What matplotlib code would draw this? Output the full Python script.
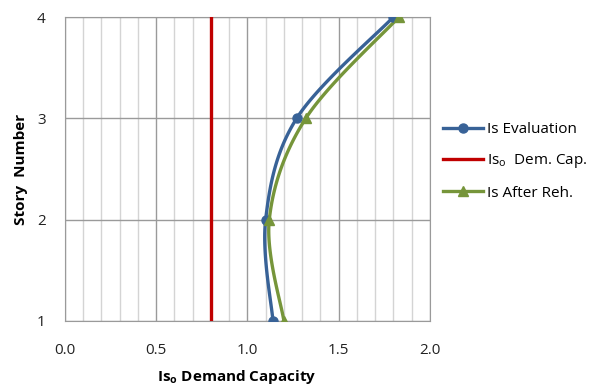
import numpy as np
import matplotlib.pyplot as plt
from matplotlib.ticker import MultipleLocator

# Werte
stories = [1, 2, 3, 4]
is_evaluation = [1.14, 1.10, 1.27, 1.80]
is_after_reh = [1.20, 1.12, 1.32, 1.83]
is0_demand = 0.8

x_ticks = [0.0, 0.5, 1.0, 1.5, 2.0]
y_ticks = [1, 2, 3, 4]


def smooth(x, y, sx=182.5, sy=101.3, n=40):
    # Catmull-Rom Glättung wie bei Excel ("smoothed line")
    p = np.column_stack([np.asarray(x) * sx, np.asarray(y) * sy])
    p = np.vstack([p[0], p, p[-1]])
    out = []
    for i in range(1, len(p) - 2):
        p0, p1, p2, p3 = p[i - 1], p[i], p[i + 1], p[i + 2]
        c1 = p1 + (p2 - p0) / 6
        c2 = p2 - (p3 - p1) / 6
        t = np.linspace(0, 1, n)[:, None]
        seg = ((1 - t) ** 3) * p1 + 3 * ((1 - t) ** 2) * t * c1 + 3 * (1 - t) * t ** 2 * c2 + t ** 3 * p2
        out.append(seg if i == 1 else seg[1:])
    out = np.vstack(out)
    return out[:, 0] / sx, out[:, 1] / sy


plt.rcParams['font.family'] = ['Open Sans', 'DejaVu Sans']

fig = plt.figure(figsize=(5.98, 3.89), dpi=100)
ax = fig.add_axes([0.1087, 0.175, 0.610, 0.781])

blue = '#386297'
red = '#C00000'
green = '#76953A'

xs, ys = smooth(is_evaluation, stories)
ax.plot(xs, ys, color=blue, lw=2.4, zorder=4)
ax.plot(is_evaluation, stories, 'o', color=blue, ms=6.5, zorder=5)
ax.plot([], [], color=blue, lw=2.4, marker='o', ms=6.5, label='Is Evaluation')

ax.axvline(is0_demand, color=red, lw=2.4, zorder=3, label='Is$_\\mathregular{o}$  Dem. Cap.')

xs, ys = smooth(is_after_reh, stories)
ax.plot(xs, ys, color=green, lw=2.4, zorder=4)
ax.plot(is_after_reh, stories, '^', color=green, ms=7, zorder=5)
ax.plot([], [], color=green, lw=2.4, marker='^', ms=7, label='Is After Reh.')

ax.set_xlim(0, 2.0)
ax.set_ylim(1, 4)
ax.set_xticks(x_ticks)
ax.set_xticklabels(['%.1f' % v for v in x_ticks])
ax.set_yticks(y_ticks)
ax.xaxis.set_minor_locator(MultipleLocator(0.1))
ax.grid(which='major', color='#9a9a9a', lw=1)
ax.grid(which='minor', axis='x', color='#d4d4d4', lw=1)
ax.set_axisbelow(True)
ax.tick_params(which='both', length=0, labelsize=11, colors='#222222')
ax.tick_params(axis='x', pad=16)
ax.tick_params(axis='y', pad=14)
for s in ax.spines.values():
    s.set_color('#9a9a9a')

ax.set_xlabel('Is$_\\mathregular{o}$ Demand Capacity', fontsize=11, fontweight='bold')
ax.xaxis.set_label_coords(0.472, -0.155)
ax.set_ylabel('Story  Number', fontsize=11, fontweight='bold')
ax.yaxis.set_label_coords(-0.101, 0.5)

# Legende rechts neben dem Diagramm
handles, labels = ax.get_legend_handles_labels()
fig.legend(handles, labels, loc='center left', bbox_to_anchor=(0.718, 0.585), frameon=False,
           fontsize=11, handlelength=2.6, labelspacing=1.0, handletextpad=0.3)

fig.savefig('out.png', dpi=100)
